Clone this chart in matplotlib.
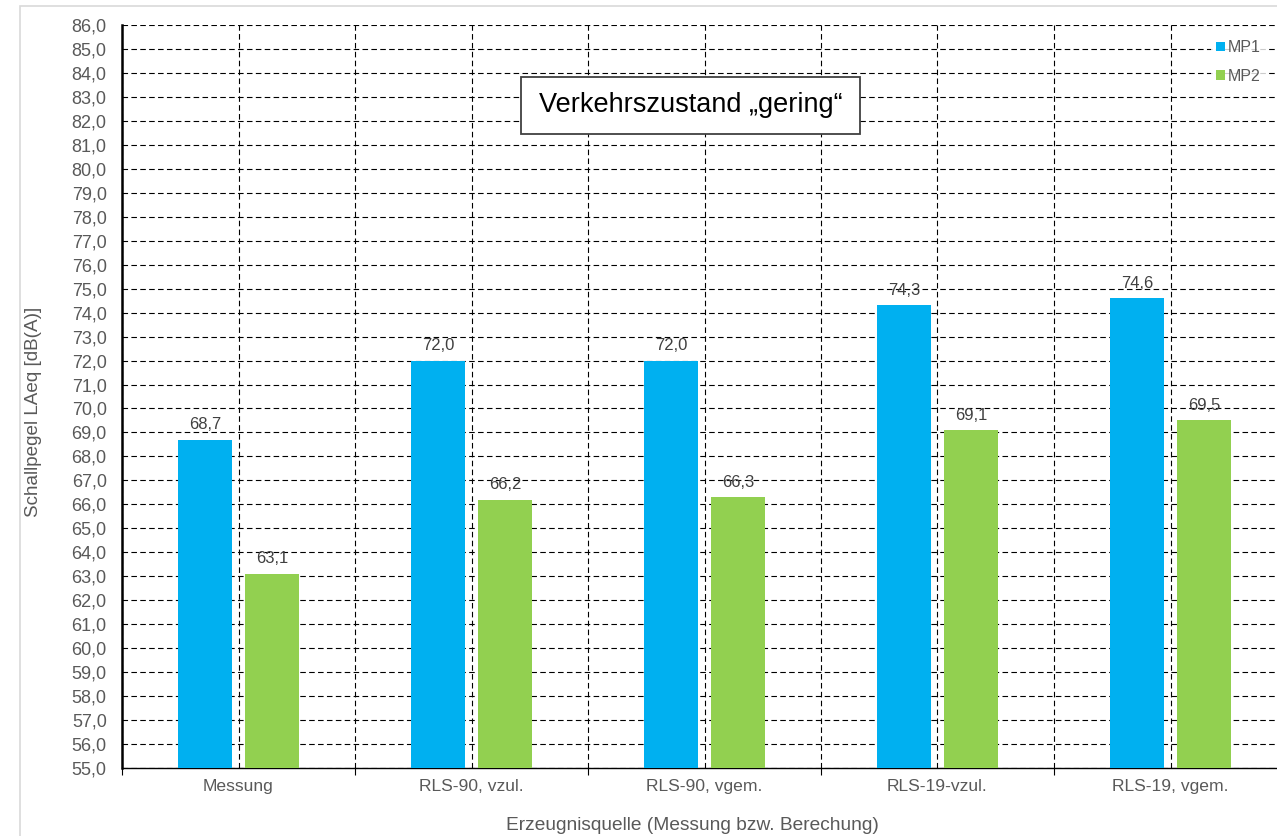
import matplotlib
matplotlib.use("Agg")
import matplotlib.pyplot as plt
from matplotlib.patches import Rectangle
import numpy as np

plt.rcParams['font.family'] = ['Liberation Sans', 'DejaVu Sans']

categories = ["Messung", "RLS-90, vzul.", "RLS-90, vgem.", "RLS-19-vzul.", "RLS-19, vgem."]
mp1 = [68.7, 72.0, 72.0, 74.3, 74.6]
mp2 = [63.1, 66.2, 66.3, 69.1, 69.5]
series_names = ["MP1", "MP2"]
y_ticks = np.arange(55, 87, 1)

W, H = 1277, 836
fig = plt.figure(figsize=(W / 100, H / 100), dpi=100)

# outer chart border
fig.patches.append(Rectangle((20 / W, -0.1), 1.2, (H - 6) / H + 0.1, transform=fig.transFigure,
                             fill=False, edgecolor='#D9D9D9', linewidth=1.2))

left, right, top, bottom = 122, 1287, 25, 768
ax = fig.add_axes([left / W, (H - bottom) / H, (right - left) / W, (bottom - top) / H])

x = np.arange(len(categories))
bw = 0.228
off = 0.144
gray = '#595959'
b1 = ax.bar(x - off, mp1, bw, color='#00B0F0', label=series_names[0], zorder=3)
b2 = ax.bar(x + off, mp2, bw, color='#92D050', label=series_names[1], zorder=3)

for bars, vals in ((b1, mp1), (b2, mp2)):
    for rect, v in zip(bars, vals):
        ax.annotate(f"{v:.1f}".replace('.', ','), (rect.get_x() + rect.get_width() / 2, v),
                    xytext=(0, 7.5), textcoords='offset points', ha='center', va='baseline',
                    fontsize=12, color='#404040', zorder=4)

ax.set_ylim(55, 86)
ax.set_xlim(-0.5, len(categories) - 0.5)
ax.set_yticks(y_ticks)
ax.set_yticklabels([f"{v:.1f}".replace('.', ',') for v in y_ticks], fontsize=13, color=gray)

ax.set_xticks(np.arange(-0.5, len(categories), 1.0))
ax.set_xticklabels([])
ax.set_xticks(x, minor=True)
ax.set_xticklabels(categories, minor=True, fontsize=12.6, color=gray)
ax.tick_params(axis='x', which='major', length=5, color='black', width=0.8)
ax.tick_params(axis='x', which='minor', length=0, pad=8)
ax.tick_params(axis='y', length=0, pad=11)

dash = (0, (5, 3))
ax.grid(True, which='major', axis='both', color='black', linestyle=dash, linewidth=0.8, zorder=0)
ax.grid(True, which='minor', axis='x', color='black', linestyle=dash, linewidth=0.8, zorder=0)
ax.set_axisbelow(True)

ax.spines['top'].set_visible(False)
ax.spines['right'].set_visible(False)
ax.spines['left'].set_linewidth(1.8)
ax.spines['left'].set_color('black')
ax.spines['bottom'].set_linewidth(1.0)
ax.spines['bottom'].set_color('black')

fig.text(34 / W, 1 - 412 / H, "Schallpegel LAeq [dB(A)]", rotation=90, ha='center', va='center',
         fontsize=13.6, color=gray)
fig.text(692 / W, 1 - 825 / H, "Erzeugnisquelle (Messung bzw. Berechung)", ha='center', va='center',
         fontsize=13.8, color=gray)

# annotation box
bx0, by0, bx1, by1 = 521, 77, 860, 134
fig.patches.append(Rectangle((bx0 / W, 1 - by1 / H), (bx1 - bx0) / W, (by1 - by0) / H,
                             transform=fig.transFigure, facecolor='white', edgecolor='#404040',
                             linewidth=1.3, zorder=5))
fig.text((bx0 + bx1) / 2 / W, 1 - (by0 + by1) / 2 / H, "Verkehrszustand \u201egering\u201c",
         ha='center', va='center', fontsize=19.5, color='black', zorder=10)

leg = ax.legend(loc='upper left', bbox_to_anchor=(1213 / W, 1 - 37 / H), bbox_transform=fig.transFigure,
                frameon=True, fontsize=11.5, handlelength=0.55, handleheight=0.55, handletextpad=0.2,
                labelspacing=0.85, borderpad=0.2, borderaxespad=0)
leg.get_frame().set_facecolor('white')
leg.get_frame().set_edgecolor('none')
leg.get_frame().set_boxstyle('square', pad=0.1)
for t in leg.get_texts():
    t.set_color(gray)

fig.savefig("out.png", dpi=100)
